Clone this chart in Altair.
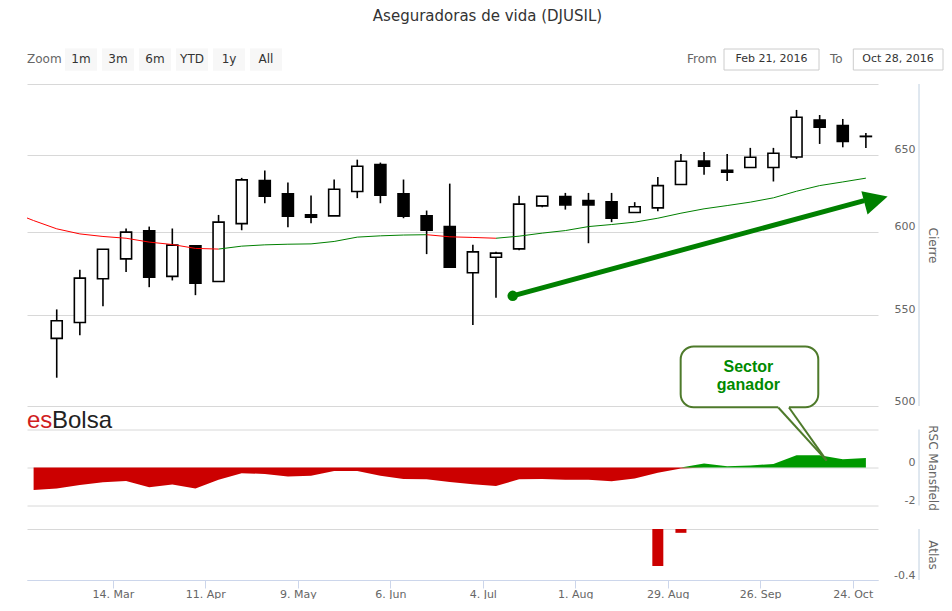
import altair as alt
import numpy as np
import pandas as pd

# ---------------- values ----------------
candle_dates = pd.date_range("2016-02-26", periods=36, freq="7D")  # weekly candles
candle_open = [536.6, 545.6, 571.1, 583.1, 600.4, 572.5, 591.1, 569.5, 605.0, 632.8,
               624.1, 610.5, 609.9, 625.6, 643.5, 624.1, 609.9, 603.1, 574.7, 584.1,
               589.2, 616.3, 622.3, 619.7, 618.9, 612.0, 615.0, 630.2, 645.9, 639.7,
               641.5, 641.5, 648.6, 674.2, 670.2, 662.8]
candle_high = [553.1, 576.5, 589.0, 601.9, 603.1, 601.9, 591.1, 610.5, 634.6, 639.5,
               631.5, 623.0, 633.5, 646.8, 644.8, 633.5, 613.3, 630.8, 591.7, 587.4,
               622.8, 622.5, 624.7, 624.7, 624.7, 618.7, 635.2, 650.7, 652.0, 650.7,
               654.8, 654.8, 681.3, 677.7, 674.9, 665.1]
candle_low = [515.0, 538.4, 555.0, 575.1, 566.1, 570.1, 561.4, 569.5, 600.8, 618.0,
              602.7, 605.2, 609.9, 621.3, 618.0, 608.4, 586.0, 578.1, 544.1, 559.9,
              588.4, 615.4, 613.9, 592.7, 605.9, 612.0, 612.9, 630.2, 636.6, 632.6,
              641.5, 632.2, 647.3, 657.5, 655.2, 654.8]
candle_close = [546.6, 571.5, 589.0, 599.6, 572.1, 591.5, 568.5, 605.9, 633.3, 622.5,
                609.7, 609.0, 627.1, 642.4, 623.2, 609.7, 600.8, 578.1, 587.4, 586.6,
                617.4, 622.5, 616.9, 616.9, 608.4, 615.7, 629.5, 645.7, 642.4, 638.3,
                648.4, 651.1, 676.1, 669.1, 659.3, 662.6]

ma_dates = pd.date_range("2016-02-12", periods=38, freq="7D")
ma_values = [612.7, 606.9, 601.7, 598.5, 596.9, 595.8, 593.4, 591.9, 589.5, 589.1,
             590.9, 591.7, 592.1, 592.3, 593.8, 596.5, 597.3, 597.8, 598.0, 596.7,
             596.3, 595.8, 597.1, 599.0, 600.6, 603.1, 604.4, 605.9, 608.4, 611.6,
             614.4, 616.5, 618.7, 621.5, 625.8, 629.5, 631.9, 634.4]

rsc_dates = pd.date_range("2016-02-19", periods=37, freq="7D")
rsc_values = [-1.19, -1.10, -0.92, -0.78, -0.71, -1.04, -0.90, -1.10, -0.65, -0.30,
              -0.34, -0.48, -0.44, -0.18, -0.19, -0.44, -0.60, -0.62, -0.76, -0.88,
              -0.97, -0.62, -0.60, -0.64, -0.65, -0.73, -0.58, -0.27, -0.05, 0.21,
              0.07, 0.11, 0.18, 0.65, 0.64, 0.44, 0.50]

atlas_dates = ["2016-08-26", "2016-09-02"]
atlas_values = [-0.29, -0.03]

x_tick_dates = pd.date_range("2016-03-14", periods=9, freq="28D")
price_ticks = [500, 550, 600, 650, 700]
rsc_ticks = [-2, 0, 2]
atlas_ticks = [-0.4, 0]
zoom_buttons = ["1m", "3m", "6m", "YTD", "1y", "All"]
title_text = "Aseguradoras de vida (DJUSIL)"
from_date_text = "Feb 21, 2016"
to_date_text = "Oct 28, 2016"
callout_lines = ["Sector", "ganador"]

# annotation anchors (date, value)
arrow_start = ("2016-07-13 01:30", 561.0)
arrow_base = ("2016-10-27 12:00", 619.7)
arrow_tip = ("2016-11-03 14:00", 622.3)
callout_corner_a = ("2016-09-01 22:00", 532.1)
callout_corner_b = ("2016-10-13 14:00", 499.3)
callout_text_date = "2016-09-22 10:00"
callout_text_values = [520.6, 511.1]
pointer_base_dates = ["2016-10-01 11:30", "2016-10-04 17:00"]
pointer_base_value = 3.16
pointer_tip = ("2016-10-16 03:00", 0.36)


def iso(d):
    return pd.Timestamp(d).strftime("%Y-%m-%dT%H:%M:%SZ")


def ms(d):
    return int(pd.Timestamp(d).tz_localize("UTC").value // 10**6)


# ---------------- tables ----------------
candles = pd.DataFrame({
    "date": [iso(d) for d in candle_dates],
    "open": candle_open, "high": candle_high,
    "low": candle_low, "close": candle_close,
})
candles["dir"] = np.where(candles["close"] >= candles["open"], "up", "down")

ma = pd.DataFrame({
    "d0": [iso(d) for d in ma_dates[:-1]], "d1": [iso(d) for d in ma_dates[1:]],
    "v0": ma_values[:-1], "v1": ma_values[1:],
})
ma["trend"] = np.where(ma["v1"] >= ma["v0"], "sube", "baja")

rsc = pd.DataFrame({"date": [iso(d) for d in rsc_dates], "v": rsc_values})
rsc["neg"] = rsc["v"].clip(upper=0)
rsc["pos"] = rsc["v"].clip(lower=0)

atlas = pd.DataFrame({"date": [iso(d) for d in atlas_dates], "v": atlas_values})

arrow = pd.DataFrame({"x0": [iso(arrow_start[0])], "y0": [arrow_start[1]],
                      "x1": [iso(arrow_base[0])], "y1": [arrow_base[1]]})
arrow_tip_df = pd.DataFrame({"x": [iso(arrow_tip[0])], "y": [arrow_tip[1]]})
arrow_dot_df = pd.DataFrame({"x": [iso(arrow_start[0])], "y": [arrow_start[1]]})
callout = pd.DataFrame({"x0": [iso(callout_corner_a[0])], "y0": [callout_corner_a[1]],
                        "x1": [iso(callout_corner_b[0])], "y1": [callout_corner_b[1]]})
callout_txt = pd.DataFrame({"x": [iso(callout_text_date)] * 2, "y": callout_text_values,
                            "t": callout_lines})
pointer = pd.DataFrame({"x0": [iso(d) for d in pointer_base_dates],
                        "y0": [pointer_base_value] * 2,
                        "x1": [iso(pointer_tip[0])] * 2, "y1": [pointer_tip[1]] * 2})
pointer_gap = pd.DataFrame({"x0": [iso(pointer_base_dates[0])], "x1": [iso(pointer_base_dates[1])],
                            "y0": [pointer_base_value]})
ONE = pd.DataFrame({"k": [0]})

# ---------------- layout ----------------
W = 851
H_MAIN = 322
H_RSC = 76
H_ATL = 51
GAP = 23.5
LABEL_C = "#666666"
GRID_C = "#d8d8d8"
AXIS_LINE_C = "#c0d0e0"
GREEN = "#008000"

X_DOMAIN = [ms("2016-02-17 00:00"), ms("2016-10-31 16:00")]
xscale = alt.Scale(type="utc", domain=X_DOMAIN, nice=False, padding=0)
pscale = alt.Scale(type="log", domain=[500, 700], nice=False, padding=0)
rscale = alt.Scale(domain=[-2, 2], nice=False, padding=0)
ascale = alt.Scale(domain=[-0.4, 0], nice=False, padding=0)


def yaxis(values, hide, title, h):
    return alt.Axis(
        orient="right", values=values, title=title,
        grid=True, gridColor=GRID_C, gridWidth=1,
        domain=False, ticks=False, tickSize=0,
        labelPadding=37, labelAlign="right", labelBaseline="alphabetic", labelOffset=-2,
        labelColor=LABEL_C, labelFontSize=11, labelFlush=False, labelOverlap=False,
        labelExpr=f"datum.value == {hide} ? '' : toString(datum.value)",
        titleAngle=90, titleX=54, titleY=h / 2, titleAlign="center", titleBaseline="middle",
        titleColor=LABEL_C, titleFontSize=12, titleFontWeight="normal",
    )


paxis = yaxis(price_ticks, 700, "Cierre", H_MAIN)
raxis = yaxis(rsc_ticks, 2, "RSC Mansfield", H_RSC)
aaxis = yaxis(atlas_ticks, 0, "Atlas", H_ATL)
xaxis = alt.Axis(
    values=[ms(d) for d in x_tick_dates],
    labelExpr="utcFormat(datum.value, '%-d. %b')",
    grid=False, domainColor="#ccd6eb", tickColor="#ccd6eb", tickSize=8,
    labelPadding=0, labelColor=LABEL_C, labelFontSize=11, labelFlush=False,
    labelOverlap=False, title=None, zindex=1,
)


def X(field):
    return alt.X(field, scale=xscale, axis=None)


def txt(text, x, y, **kw):
    return alt.Chart(ONE).mark_text(**kw).encode(
        x=alt.value(x), y=alt.value(y), text=alt.value(text))


def box(x0, x1, y0, y1, **kw):
    return alt.Chart(ONE).mark_rect(**kw).encode(
        x=alt.value(x0), x2=alt.value(x1), y=alt.value(y0), y2=alt.value(y1))


def axis_line(h):
    return alt.Chart(ONE).mark_rule(color=AXIS_LINE_C, strokeWidth=1).encode(
        x=alt.value(W + 41), y=alt.value(0), y2=alt.value(h))


# ---------------- main panel ----------------
wicks = alt.Chart(candles).mark_rule(color="black", strokeWidth=1.6).encode(
    x=X("date:T"), y=alt.Y("low:Q", scale=pscale, axis=paxis), y2="high:Q")
bodies = alt.Chart(candles).mark_bar(size=11, stroke="black", strokeWidth=1.6).encode(
    x=X("date:T"), y=alt.Y("open:Q", scale=pscale, axis=paxis), y2="close:Q",
    fill=alt.Fill("dir:N", scale=alt.Scale(domain=["up", "down"], range=["white", "black"]),
                  legend=None))
ma_rules = alt.Chart(ma).mark_rule(strokeWidth=1, clip=True).encode(
    x=X("d0:T"), x2="d1:T", y=alt.Y("v0:Q", scale=pscale, axis=paxis), y2="v1:Q",
    color=alt.Color("trend:N", scale=alt.Scale(domain=["sube", "baja"], range=[GREEN, "#ff0000"]),
                    legend=None))
arrow_shaft = alt.Chart(arrow).mark_rule(color=GREEN, strokeWidth=5).encode(
    x=X("x0:T"), x2="x1:T", y=alt.Y("y0:Q", scale=pscale, axis=paxis), y2="y1:Q")
arrow_head = alt.Chart(arrow_tip_df).mark_point(
    shape="M0,0L-2,-1L-2,1Z", size=576, angle=345, filled=True, color=GREEN,
    opacity=1, strokeWidth=0).encode(
    x=X("x:T"), y=alt.Y("y:Q", scale=pscale, axis=paxis))
arrow_dot = alt.Chart(arrow_dot_df).mark_point(
    shape="circle", size=110, filled=True, color=GREEN, opacity=1).encode(
    x=X("x:T"), y=alt.Y("y:Q", scale=pscale, axis=paxis))
callout_rect = alt.Chart(callout).mark_rect(
    fill="white", stroke="#4e7a2b", strokeWidth=2, cornerRadius=13).encode(
    x=X("x0:T"), x2="x1:T", y=alt.Y("y0:Q", scale=pscale, axis=paxis), y2="y1:Q")
callout_text = alt.Chart(callout_txt).mark_text(
    font="Liberation Sans", fontSize=16, fontWeight="bold", color="#008a00",
    align="center", baseline="middle").encode(
    x=X("x:T"), y=alt.Y("y:Q", scale=pscale, axis=paxis), text="t:N")

logo_es = txt("es", 0, 344, font="Liberation Sans", fontSize=24, color="#d0201e",
              align="left", baseline="alphabetic")
logo_bolsa = txt("Bolsa", 25, 344, font="Liberation Sans", fontSize=24, color="#222222",
                 align="left", baseline="alphabetic")

title = txt(title_text, 460.5, -63.3, fontSize=15, color="#333333",
            align="center", baseline="alphabetic")
top_extent = box(0, 1, -75.3, -74.3, opacity=0)
zoom_lbl = txt("Zoom", 0, -25, fontSize=12, color=LABEL_C, align="left", baseline="middle")
btns = []
for i, lab in enumerate(zoom_buttons):
    x0 = 38 + 37 * i
    btns.append(box(x0, x0 + 32, -35.6, -13.3, fill="#f7f7f7"))
    btns.append(txt(lab, x0 + 16, -25, fontSize=12, color="#333333",
                    align="center", baseline="middle"))
from_lbl = txt("From", 660, -25, fontSize=12, color=LABEL_C, align="left", baseline="middle")
from_box = box(697, 792, -35, -14, fill="white", stroke="#cccccc", strokeWidth=1)
from_txt = txt(from_date_text, 744.5, -25, fontSize=11, color="#333333",
               align="center", baseline="middle")
to_lbl = txt("To", 803, -25, fontSize=12, color=LABEL_C, align="left", baseline="middle")
to_box = box(826.3, 916, -35, -14, fill="white", stroke="#cccccc", strokeWidth=1)
to_txt = txt(to_date_text, 871, -25, fontSize=11, color="#333333",
             align="center", baseline="middle")

main = alt.layer(
    wicks, bodies, ma_rules, arrow_shaft, arrow_head, arrow_dot,
    callout_rect, callout_text, logo_es, logo_bolsa,
    title, top_extent, zoom_lbl, *btns, from_lbl, from_box, from_txt,
    to_lbl, to_box, to_txt, axis_line(H_MAIN),
).properties(width=W, height=H_MAIN)

# ---------------- RSC Mansfield panel ----------------
red_area = alt.Chart(rsc).mark_area(color="#cc0000").encode(
    x=X("date:T"), y=alt.Y("neg:Q", scale=rscale, axis=raxis), y2=alt.datum(0))
green_area = alt.Chart(rsc).mark_area(color="#009900").encode(
    x=X("date:T"), y=alt.Y("pos:Q", scale=rscale, axis=raxis), y2=alt.datum(0))
gap_cover = alt.Chart(pointer_gap).mark_rule(color="white", strokeWidth=3).encode(
    x=X("x0:T"), x2="x1:T", y=alt.Y("y0:Q", scale=rscale, axis=raxis))
pointer_lines = alt.Chart(pointer).mark_rule(color="#4e7a2b", strokeWidth=2).encode(
    x=X("x0:T"), x2="x1:T", y=alt.Y("y0:Q", scale=rscale, axis=raxis), y2="y1:Q")

rsc_panel = alt.layer(
    red_area, green_area, gap_cover, pointer_lines, axis_line(H_RSC)
).properties(width=W, height=H_RSC)

# ---------------- Atlas panel ----------------
atlas_bars = alt.Chart(atlas).mark_bar(size=11, color="#cc0000").encode(
    x=alt.X("date:T", scale=xscale, axis=xaxis),
    y=alt.Y("v:Q", scale=ascale, axis=aaxis), y2=alt.datum(0))
atlas_panel = alt.layer(atlas_bars, axis_line(H_ATL)).properties(width=W, height=H_ATL)

chart = alt.vconcat(
    main, rsc_panel, atlas_panel, spacing=GAP, bounds="flush"
).properties(
    padding={"left": 19, "top": 0, "right": 0, "bottom": 0},
    background="white",
).configure(font="DejaVu Sans").configure_view(stroke=None)

chart.save("out.html", embed_options={"renderer": "svg", "actions": False})
